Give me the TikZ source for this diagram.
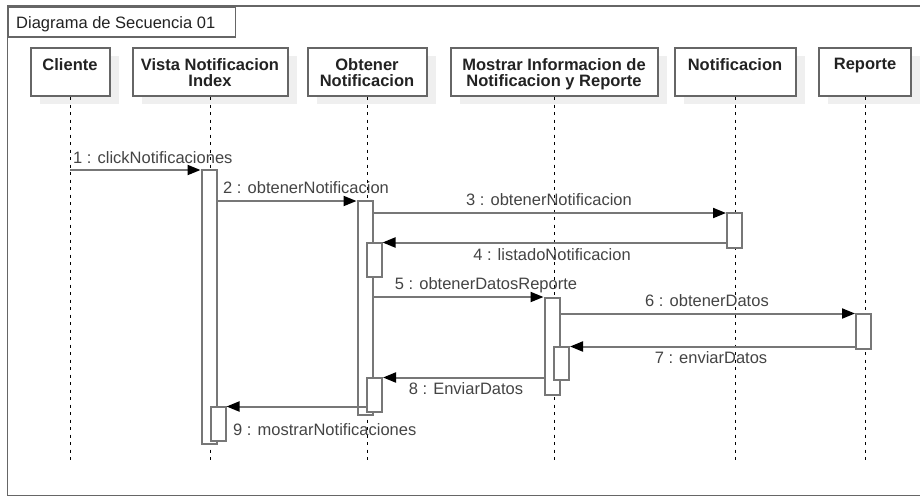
\documentclass[tikz,border=0pt]{standalone}
\usepackage{fontspec}
\setmainfont{Liberation Sans}
\usetikzlibrary{arrows.meta,calc,shadows}
\definecolor{ln}{HTML}{777777}
\definecolor{frm}{HTML}{666666}
\definecolor{shd}{HTML}{EFEFEF}
\definecolor{txt}{HTML}{222222}
\definecolor{msgc}{HTML}{444444}
\begin{document}
\begin{tikzpicture}[x=1pt,y=-1pt,
  hdr/.style={draw=frm, line width=2pt, fill=white, minimum height=48pt, inner sep=0pt,
     drop shadow={shadow xshift=9pt,shadow yshift=-8pt,fill=shd,opacity=1}},
  hdrtext/.style={font=\bfseries\fontsize{16.5}{16}\selectfont, text=txt, align=center, anchor=north, inner sep=0pt},
  msgtxt/.style={font=\fontsize{16.5}{18}\selectfont, text=msgc, inner sep=0pt},
  actbar/.style={draw=ln, line width=2pt, fill=white, minimum width=15pt, inner sep=0pt, anchor=north},
  msg/.style={draw=ln, line width=2pt, -{Triangle[length=13pt,width=10pt,color=black]}},
  life/.style={black, line width=1pt, dash pattern=on 3pt off 4.5pt}]
\useasboundingbox (0,0) rectangle (920,496);
\clip (0,0) rectangle (920,496);
% frame
\draw[frm, line width=1.8pt] (7.5,6) rectangle (935,495.5);
\node[draw=frm, line width=1.8pt, fill=white, minimum width=227pt, minimum height=30pt, anchor=north west, inner sep=0pt] (title) at (7.5,6) {};
\node[msgtxt, text=txt, anchor=base west] (titletext) at (16,28) {Diagrama de Secuencia 01};
% header boxes
\node[hdr, minimum width=79pt] (cli) at (70,72) {};
\node[hdr, minimum width=155pt] (vis) at (210,72) {};
\node[hdr, minimum width=119pt] (obt) at (367,72) {};
\node[hdr, minimum width=207pt] (mos) at (554,72) {};
\node[hdr, minimum width=121pt] (not) at (735,72) {};
\node[hdr, minimum width=92pt] (rep) at (865,72) {};
\node[hdrtext] (clit) at (70,58) {Cliente};
\node[hdrtext] (vist) at (210,58) {Vista Notificacion\\Index};
\node[hdrtext] (obtt) at (367,58) {Obtener\\Notificacion};
\node[hdrtext] (most) at (554,58) {Mostrar Informacion de\\Notificacion y Reporte};
\node[hdrtext] (nott) at (735,58) {Notificacion};
\node[hdrtext] (rept) at (865,58) {Reporte};
% lifeline ends
\foreach \n/\x in {cli/70,vis/210,obt/367,mos/554,not/735,rep/865}{
  \coordinate (\n end) at (\x,462);
  \draw[life] (\n.south) -- (\n end);
}
% activation bars
\node[actbar, minimum height=274pt] (vb1) at (209,169) {};
\node[actbar, minimum height=34pt] (vb2) at (218,406) {};
\node[actbar, minimum height=214pt] (ob1) at (365,200) {};
\node[actbar, minimum height=34pt] (ob2) at (374,242) {};
\node[actbar, minimum height=34pt] (ob3) at (374.5,377) {};
\node[actbar, minimum height=35pt] (nb1) at (734.5,212) {};
\node[actbar, minimum height=97pt] (mb1) at (552,297) {};
\node[actbar, minimum height=33pt] (mb2) at (561.5,346) {};
\node[actbar, minimum height=35pt] (rb1) at (863.5,313) {};
% message levels
\coordinate (y1) at (0,170);
\coordinate (y2) at (0,201);
\coordinate (y3) at (0,213);
\coordinate (y4) at (0,242.5);
\coordinate (y5) at (0,297);
\coordinate (y6) at (0,313.5);
\coordinate (y7) at (0,346.5);
\coordinate (y8) at (0,377.5);
\coordinate (y9) at (0,406.5);
% messages
\draw[msg] (cli.south |- y1) -- (vb1.west |- y1);
\draw[msg] (vb1.east |- y2) -- (ob1.west |- y2);
\draw[msg] (ob1.east |- y3) -- (nb1.west |- y3);
\draw[msg] (nb1.west |- y4) -- (ob2.east |- y4);
\draw[msg] (ob1.east |- y5) -- (mb1.west |- y5);
\draw[msg] (mb1.east |- y6) -- (rb1.west |- y6);
\draw[msg] (rb1.west |- y7) -- (mb2.east |- y7);
\draw[msg] (mb1.west |- y8) -- (ob3.east |- y8);
\draw[msg] (ob3.west |- y9) -- (vb2.east |- y9);
% labels
\node[msgtxt, anchor=base west] (l1) at (73,163) {1 : clickNotificaciones};
\node[msgtxt, anchor=base west] (l2) at (223,193) {2 : obtenerNotificacion};
\node[msgtxt, anchor=base] (l3) at (549,205) {3 : obtenerNotificacion};
\node[msgtxt, anchor=base] (l4) at (552,260) {4 : listadoNotificacion};
\node[msgtxt, anchor=base] (l5) at (486,289) {5 : obtenerDatosReporte};
\node[msgtxt, anchor=base] (l6) at (707,306) {6 : obtenerDatos};
\node[msgtxt, anchor=base] (l7) at (711,363) {7 : enviarDatos};
\node[msgtxt, anchor=base] (l8) at (466,394) {8 : EnviarDatos};
\node[msgtxt, anchor=base west] (l9) at (233,435) {9 : mostrarNotificaciones};
\end{tikzpicture}
\end{document}
